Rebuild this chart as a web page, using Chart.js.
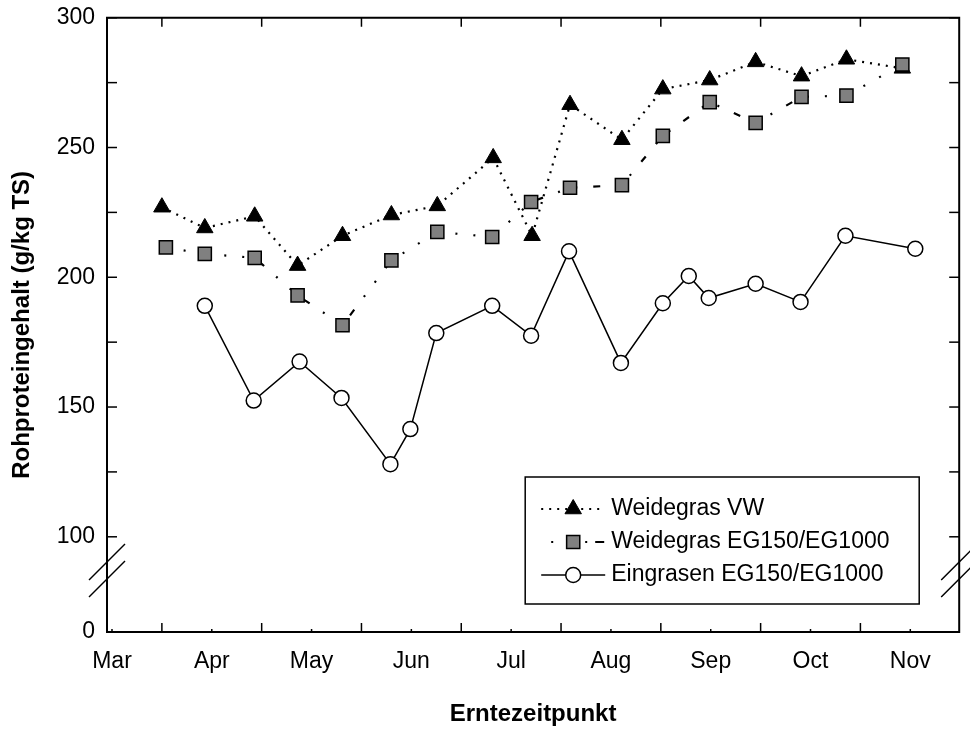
<!DOCTYPE html>
<html>
<head>
<meta charset="utf-8">
<script src="https://cdn.jsdelivr.net/npm/chart.js@4.4.1/dist/chart.umd.min.js"></script>
<style>
  html, body { margin: 0; padding: 0; background: #fff; }
</style>
</head>
<body>
<canvas id="myChart" width="970" height="729"></canvas>
<script>
// month positions on the x axis (3 = Mar ... 11 = Nov)
const monthTicks = [3, 4, 5, 6, 7, 8, 9, 10, 11];
const monthLabels = ['Mar', 'Apr', 'May', 'Jun', 'Jul', 'Aug', 'Sep', 'Oct', 'Nov'];

const yTickValues = [0, 100, 125, 150, 175, 200, 225, 250, 275, 300];
const yTickLabels = ['0', '100', '', '150', '', '200', '', '250', '', '300'];

const seriesNames = ['Weidegras VW', 'Weidegras EG150/EG1000', 'Eingrasen EG150/EG1000'];

const vwDates = [3.50, 3.93, 4.43, 4.86, 5.31, 5.80, 6.26, 6.82, 7.21, 7.59, 8.11, 8.52, 8.99, 9.45, 9.91, 10.36, 10.92];
const vwValues = [227, 219, 223.5, 204.5, 216, 224, 227.5, 246, 216, 266.5, 253, 272.5, 276, 283, 277.5, 284, 280.5];

const egDates = [3.54, 3.93, 4.43, 4.86, 5.31, 5.80, 6.26, 6.81, 7.20, 7.59, 8.11, 8.52, 8.99, 9.45, 9.91, 10.36, 10.92];
const egValues = [211.5, 209, 207.5, 193, 181.5, 206.5, 217.5, 215.5, 229, 234.5, 235.5, 254.5, 267.5, 259.5, 269.5, 270, 282];

const einDates = [3.93, 4.42, 4.88, 5.30, 5.79, 5.99, 6.25, 6.81, 7.20, 7.58, 8.10, 8.52, 8.78, 8.98, 9.45, 9.90, 10.35, 11.05];
const einValues = [189, 152.5, 167.5, 153.5, 128, 141.5, 178.5, 189, 177.5, 210, 167, 190, 200.5, 192, 197.5, 190.5, 216, 211];

const FONT = 'Arial, "Liberation Sans", sans-serif';

// y axis with a break: 0..100 gets only a small part of the height
const BREAK_AT = 100;
const LOW_PART = 0.155;

class BrokenScale extends Chart.LinearScale {
  static id = 'broken';
  toDecimal(v) {
    if (v <= BREAK_AT) return v / BREAK_AT * LOW_PART;
    return LOW_PART + (v - BREAK_AT) / (this.max - BREAK_AT) * (1 - LOW_PART);
  }
  getPixelForValue(v) {
    if (v === null || v === undefined) return NaN;
    return this.getPixelForDecimal(this.toDecimal(v));
  }
  getValueForPixel(p) {
    const d = this.getDecimalForPixel(p);
    if (d <= LOW_PART) return d / LOW_PART * BREAK_AT;
    return BREAK_AT + (d - LOW_PART) / (1 - LOW_PART) * (this.max - BREAK_AT);
  }
}
Chart.register(BrokenScale);

const toPoints = (xs, ys) => xs.map((x, i) => ({ x: x, y: ys[i] }));

const datasets = [
  {
    label: seriesNames[0],
    data: toPoints(vwDates, vwValues),
    borderColor: '#000',
    borderWidth: 2.2,
    borderDash: [2, 6],
    pointStyle: 'triangle',
    pointRadius: 9.5,
    pointBackgroundColor: '#000',
    pointBorderColor: '#000',
    pointBorderWidth: 1,
    order: 3,
    legendDash: [2, 6]
  },
  {
    label: seriesNames[1],
    data: toPoints(egDates, egValues),
    borderColor: '#000',
    borderWidth: 2.2,
    borderDash: [2, 16, 2, 16, 7, 16],
    pointStyle: 'rect',
    pointRadius: 9.3,
    pointBackgroundColor: '#808080',
    pointBorderColor: '#000',
    pointBorderWidth: 1.5,
    order: 2,
    legendDash: [2, 32, 2, 8, 9, 100]
  },
  {
    label: seriesNames[2],
    data: toPoints(einDates, einValues),
    borderColor: '#000',
    borderWidth: 1.5,
    pointStyle: 'circle',
    pointRadius: 7.5,
    pointBackgroundColor: '#fff',
    pointBorderColor: '#000',
    pointBorderWidth: 1.5,
    order: 1,
    legendDash: []
  }
];

const line = (ctx, x1, y1, x2, y2) => {
  ctx.beginPath();
  ctx.moveTo(x1, y1);
  ctx.lineTo(x2, y2);
  ctx.stroke();
};

// frame, inward ticks, axis breaks and the boxed legend
const framePlugin = {
  id: 'frame',
  afterDraw(chart) {
    const { ctx, chartArea: a, scales: { x, y } } = chart;
    ctx.save();
    ctx.strokeStyle = '#000';
    ctx.lineWidth = 1.5;

    yTickValues.forEach(v => {
      if (v === 0) return;
      const py = y.getPixelForValue(v);
      line(ctx, a.left, py, a.left + 10, py);
      line(ctx, a.right, py, a.right - 10, py);
    });
    monthTicks.forEach(m => {
      let px = x.getPixelForValue(m);
      line(ctx, px, a.bottom, px, a.bottom - 3);
      if (m + 0.5 < x.max) {
        px = x.getPixelForValue(m + 0.5);
        line(ctx, px, a.bottom, px, a.bottom - 9);
        line(ctx, px, a.top, px, a.top + 9);
      }
    });

    ctx.lineWidth = 2;
    ctx.strokeRect(a.left, a.top, a.width, a.height);

    // break marks
    ctx.lineWidth = 1.5;
    [a.left, a.right].forEach(ax => {
      [70, 53].forEach(off => {
        const cy = a.bottom - off;
        line(ctx, ax - 18, cy + 18, ax + 18, cy - 18);
      });
    });

    // legend
    const bw = 394, bh = 127;
    const bx = a.right - 40 - bw, by = a.bottom - 28 - bh;
    ctx.fillStyle = '#fff';
    ctx.fillRect(bx, by, bw, bh);
    ctx.strokeRect(bx, by, bw, bh);
    const rows = [32, 65, 98];
    const starts = [16, 26, 16];
    chart.data.datasets.forEach((ds, i) => {
      const cy = by + rows[i];
      const mx = bx + 48;
      ctx.save();
      ctx.strokeStyle = ds.borderColor;
      ctx.lineWidth = ds.borderWidth;
      ctx.setLineDash(ds.legendDash);
      line(ctx, bx + starts[i], cy, bx + 80, cy);
      ctx.restore();
      ctx.fillStyle = ds.pointBackgroundColor;
      ctx.strokeStyle = ds.pointBorderColor;
      ctx.lineWidth = ds.pointBorderWidth;
      Chart.helpers.drawPoint(ctx, {
        pointStyle: ds.pointStyle,
        radius: ds.pointRadius,
        rotation: 0,
        borderWidth: ds.pointBorderWidth
      }, mx, cy);
      ctx.fillStyle = '#000';
      ctx.font = '23px ' + FONT;
      ctx.textBaseline = 'middle';
      ctx.textAlign = 'left';
      ctx.fillText(ds.label, bx + 86, cy);
    });
    ctx.restore();
  }
};

const configChart = {
  type: 'line',
  data: { datasets: datasets },
  options: {
    responsive: false,
    animation: false,
    devicePixelRatio: 1,
    layout: { padding: { top: 10, right: 9, left: 0, bottom: 0 } },
    plugins: {
      legend: { display: false },
      tooltip: { enabled: false }
    },
    scales: {
      x: {
        type: 'linear',
        min: 2.95,
        max: 11.49,
        afterBuildTicks: s => { s.ticks = monthTicks.map(v => ({ value: v })); },
        afterFit: s => { s.height = 97; },
        grid: { display: false, drawTicks: false },
        border: { display: false },
        ticks: {
          autoSkip: false,
          maxRotation: 0,
          padding: 16,
          color: '#000',
          font: { family: FONT, size: 23 },
          callback: v => monthLabels[monthTicks.indexOf(v)] || ''
        },
        title: {
          display: true,
          text: 'Erntezeitpunkt',
          color: '#000',
          font: { family: FONT, size: 24, weight: 'bold', lineHeight: 1.2 },
          padding: { top: 0, bottom: 0 }
        }
      },
      y: {
        type: 'broken',
        min: 0,
        max: 300,
        afterBuildTicks: s => { s.ticks = yTickValues.map(v => ({ value: v })); },
        afterFit: s => { s.width = 107; },
        grid: { display: false, drawTicks: false },
        border: { display: false },
        ticks: {
          autoSkip: false,
          padding: 12,
          color: '#000',
          font: { family: FONT, size: 23, lineHeight: 0.5 },
          callback: v => yTickLabels[yTickValues.indexOf(v)]
        },
        title: {
          display: true,
          text: 'Rohproteingehalt (g/kg TS)',
          color: '#000',
          font: { family: FONT, size: 24, weight: 'bold', lineHeight: 1.2 },
          padding: { top: 8, bottom: 0 }
        }
      }
    }
  },
  plugins: [framePlugin]
};

const myChart = new Chart(document.getElementById('myChart'), configChart);
</script>
</body>
</html>
